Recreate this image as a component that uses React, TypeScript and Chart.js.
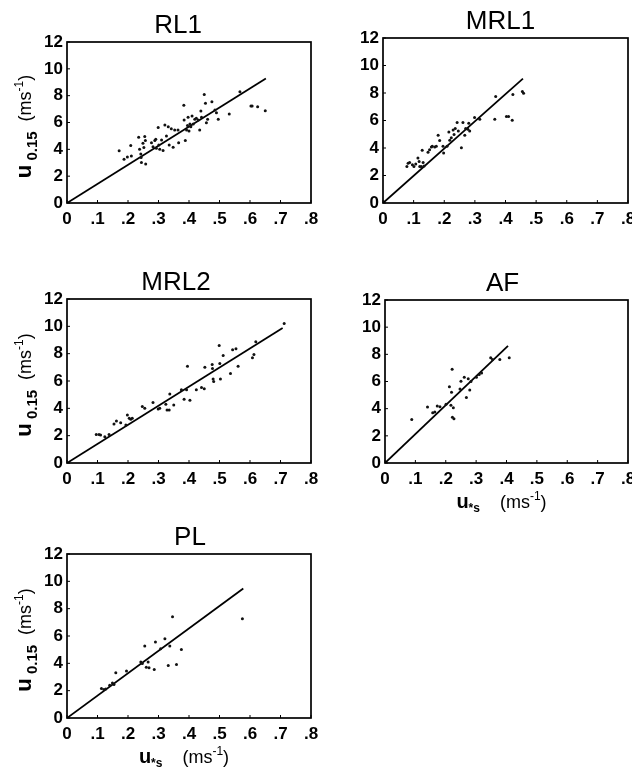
import React, { useEffect, useRef } from "react";
import { Chart, registerables } from "chart.js";

Chart.register(...registerables);

// ---------- tick labels ----------
const X_TICK_LABELS = ["0", ".1", ".2", ".3", ".4", ".5", ".6", ".7", ".8"];
const Y_TICK_LABELS = ["0", "2", "4", "6", "8", "10", "12"];

// ---------- RL1 ----------
const RL1_X = [0.171, 0.187, 0.198, 0.209, 0.211, 0.235, 0.238, 0.242, 0.243, 0.244, 0.249, 0.255, 0.257, 0.258, 0.252, 0.277, 0.282, 0.288, 0.291, 0.293, 0.299, 0.301, 0.304, 0.31, 0.315, 0.321, 0.326, 0.332, 0.335, 0.342, 0.348, 0.353, 0.364, 0.366, 0.383, 0.384, 0.388, 0.392, 0.395, 0.397, 0.4, 0.403, 0.406, 0.41, 0.414, 0.419, 0.424, 0.43, 0.435, 0.439, 0.441, 0.45, 0.454, 0.457, 0.461, 0.475, 0.485, 0.49, 0.496, 0.532, 0.567, 0.603, 0.607, 0.625, 0.65];
const RL1_Y = [3.89, 3.27, 3.42, 4.28, 3.51, 4.9, 4.0, 3.66, 3.39, 3.02, 4.46, 4.95, 4.65, 2.9, 4.13, 4.5, 4.2, 4.65, 4.75, 4.08, 5.62, 4.33, 4.0, 4.7, 3.91, 5.82, 5.0, 5.69, 4.33, 5.54, 4.16, 5.45, 5.45, 4.5, 7.28, 6.19, 4.65, 5.45, 5.77, 6.39, 5.37, 5.89, 5.69, 6.49, 5.89, 6.24, 6.31, 6.19, 5.45, 6.86, 6.39, 8.09, 7.43, 5.99, 6.24, 7.55, 6.93, 6.73, 6.24, 6.63, 8.29, 7.23, 7.23, 7.18, 6.88];
const RL1_FIT_X = [0, 0.652];
const RL1_FIT_Y = [0, 9.28];

// ---------- MRL1 ----------
const MRL1_X = [0.078, 0.082, 0.087, 0.096, 0.101, 0.107, 0.114, 0.118, 0.12, 0.125, 0.128, 0.131, 0.134, 0.147, 0.152, 0.158, 0.161, 0.169, 0.174, 0.18, 0.185, 0.196, 0.198, 0.209, 0.215, 0.218, 0.223, 0.229, 0.232, 0.236, 0.242, 0.246, 0.256, 0.261, 0.267, 0.27, 0.277, 0.28, 0.283, 0.299, 0.316, 0.368, 0.365, 0.403, 0.41, 0.422, 0.424, 0.455, 0.459];
const MRL1_Y = [2.66, 2.9, 2.95, 2.78, 2.66, 2.83, 3.27, 3.02, 2.66, 2.66, 3.84, 2.95, 2.7, 3.69, 3.88, 4.08, 4.13, 4.08, 4.13, 4.92, 4.55, 4.13, 3.64, 4.13, 5.16, 4.57, 4.75, 5.31, 4.99, 5.41, 5.85, 5.24, 4.01, 5.85, 4.92, 5.41, 5.36, 5.8, 5.24, 6.22, 6.1, 7.75, 6.1, 6.29, 6.29, 6.02, 7.89, 8.11, 7.99];
const MRL1_FIT_X = [0, 0.457];
const MRL1_FIT_Y = [0, 9.05];

// ---------- MRL2 ----------
const MRL2_X = [0.096, 0.105, 0.11, 0.124, 0.138, 0.154, 0.162, 0.176, 0.193, 0.198, 0.204, 0.209, 0.214, 0.247, 0.255, 0.282, 0.299, 0.304, 0.324, 0.328, 0.335, 0.337, 0.35, 0.375, 0.384, 0.392, 0.395, 0.403, 0.424, 0.441, 0.45, 0.452, 0.476, 0.477, 0.479, 0.481, 0.499, 0.501, 0.503, 0.512, 0.536, 0.543, 0.554, 0.561, 0.608, 0.613, 0.619, 0.712];
const MRL2_Y = [2.09, 2.09, 2.04, 1.92, 2.09, 2.85, 3.07, 2.95, 2.78, 3.52, 3.27, 3.2, 3.27, 4.13, 4.01, 4.43, 3.96, 4.01, 4.3, 3.88, 3.88, 5.04, 4.25, 5.36, 4.67, 5.36, 7.08, 4.6, 5.36, 5.53, 5.43, 7.01, 7.2, 6.91, 6.15, 5.97, 8.6, 7.28, 6.15, 7.87, 6.54, 8.29, 8.36, 7.08, 7.7, 7.94, 8.87, 10.2];
const MRL2_FIT_X = [0, 0.707];
const MRL2_FIT_Y = [0, 9.88];

// ---------- AF ----------
const AF_X = [0.088, 0.14, 0.157, 0.164, 0.172, 0.181, 0.201, 0.212, 0.217, 0.219, 0.221, 0.222, 0.227, 0.225, 0.247, 0.25, 0.261, 0.268, 0.274, 0.279, 0.283, 0.301, 0.31, 0.318, 0.348, 0.354, 0.378, 0.409];
const AF_Y = [3.2, 4.12, 3.7, 3.75, 4.2, 4.15, 4.32, 5.62, 4.25, 5.2, 6.9, 3.37, 3.25, 4.07, 5.45, 6.02, 6.32, 4.82, 6.2, 5.37, 6.0, 6.32, 6.52, 6.62, 7.75, 7.62, 7.62, 7.75];
const AF_FIT_X = [0, 0.405];
const AF_FIT_Y = [0, 8.62];

// ---------- PL ----------
const PL_X = [0.113, 0.121, 0.127, 0.14, 0.149, 0.154, 0.16, 0.195, 0.242, 0.247, 0.255, 0.26, 0.266, 0.269, 0.286, 0.29, 0.307, 0.321, 0.332, 0.337, 0.346, 0.359, 0.375, 0.575];
const PL_Y = [2.16, 2.08, 2.13, 2.4, 2.57, 2.45, 3.31, 3.43, 4.09, 3.99, 5.27, 3.72, 4.09, 3.67, 3.55, 5.56, 5.07, 5.8, 3.84, 5.27, 7.4, 3.92, 5.02, 7.27];
const PL_FIT_X = [0, 0.578];
const PL_FIT_Y = [0, 9.48];

// ---------- layout (page coordinates of each plot area) ----------
const Y_W = 67;
const PAD_T = 45;
const PAD_R = 16;
const X_H = 60;
const FAMILY = '"Liberation Sans", Arial, sans-serif';

type Seg = { t: string; size: number; bold?: boolean; dy: number };

const Y_TITLE: Seg[] = [
  { t: "u", size: 22, bold: true, dy: 0 },
  { t: " 0.15", size: 15, bold: true, dy: 6 },
  { t: "  (ms", size: 18, dy: 0 },
  { t: "-1", size: 12, dy: -8 },
  { t: ")", size: 18, dy: 0 },
];
const X_TITLE: Seg[] = [
  { t: "u", size: 20, bold: true, dy: 0 },
  { t: "*s", size: 12, bold: true, dy: 4 },
  { t: "    (ms", size: 18, dy: 0 },
  { t: "-1", size: 12, dy: -8 },
  { t: ")", size: 18, dy: 0 },
];

interface PanelCfg {
  title: string;
  xs: number[];
  ys: number[];
  fx: number[];
  fy: number[];
  L: number;
  R: number;
  T: number;
  B: number;
  titleDx: number;
  yTitle: boolean;
  xTitle: boolean;
}

const PANELS: PanelCfg[] = [
  { title: "RL1", xs: RL1_X, ys: RL1_Y, fx: RL1_FIT_X, fy: RL1_FIT_Y, L: 67, R: 311, T: 42, B: 203, titleDx: -11, yTitle: true, xTitle: false },
  { title: "MRL1", xs: MRL1_X, ys: MRL1_Y, fx: MRL1_FIT_X, fy: MRL1_FIT_Y, L: 383, R: 628, T: 38, B: 203, titleDx: -5, yTitle: false, xTitle: false },
  { title: "MRL2", xs: MRL2_X, ys: MRL2_Y, fx: MRL2_FIT_X, fy: MRL2_FIT_Y, L: 67, R: 311, T: 299, B: 463, titleDx: -13, yTitle: true, xTitle: false },
  { title: "AF", xs: AF_X, ys: AF_Y, fx: AF_FIT_X, fy: AF_FIT_Y, L: 385, R: 628, T: 300, B: 463, titleDx: -4, yTitle: false, xTitle: true },
  { title: "PL", xs: PL_X, ys: PL_Y, fx: PL_FIT_X, fy: PL_FIT_Y, L: 67, R: 311, T: 554, B: 718, titleDx: 1, yTitle: true, xTitle: true },
];

function segFont(s: Seg) {
  return `${s.bold ? "bold " : ""}${s.size}px ${FAMILY}`;
}

function drawSegs(ctx: CanvasRenderingContext2D, segs: Seg[], cx: number, base: number) {
  let total = 0;
  for (const s of segs) {
    ctx.font = segFont(s);
    total += ctx.measureText(s.t).width;
  }
  let x = cx - total / 2;
  ctx.textAlign = "left";
  ctx.textBaseline = "alphabetic";
  for (const s of segs) {
    ctx.font = segFont(s);
    ctx.fillText(s.t, x, base + s.dy);
    x += ctx.measureText(s.t).width;
  }
}

const decor = {
  id: "decor",
  afterDraw(chart: any, _args: any, opts: any) {
    const { ctx } = chart;
    const { left, right, top, bottom } = chart.chartArea;
    const xs = chart.scales.x;
    const ys = chart.scales.y;
    ctx.save();
    ctx.strokeStyle = "#000";
    ctx.fillStyle = "#000";
    ctx.lineWidth = 1.7;
    ctx.strokeRect(left, top, right - left, bottom - top);
    ctx.lineWidth = 1;
    ctx.beginPath();
    for (const t of xs.ticks) {
      const px = xs.getPixelForValue(t.value);
      ctx.moveTo(px, bottom);
      ctx.lineTo(px, bottom - 3);
    }
    for (const t of ys.ticks) {
      const py = ys.getPixelForValue(t.value);
      ctx.moveTo(left, py);
      ctx.lineTo(left + 3, py);
    }
    ctx.stroke();

    ctx.font = `26px ${FAMILY}`;
    ctx.textAlign = "center";
    ctx.textBaseline = "alphabetic";
    ctx.fillText(opts.title, (left + right) / 2 + opts.titleDx, top - 9);

    if (opts.yTitle) {
      ctx.save();
      ctx.translate(left - 36, (top + bottom) / 2 + 4);
      ctx.rotate(-Math.PI / 2);
      drawSegs(ctx, Y_TITLE, 0, 0);
      ctx.restore();
    }
    if (opts.xTitle) {
      drawSegs(ctx, X_TITLE, (left + right) / 2 - 5, bottom + 45);
    }
    ctx.restore();
  },
};

function Panel({ cfg }: { cfg: PanelCfg }) {
  const ref = useRef<HTMLCanvasElement>(null);
  const w = Y_W + (cfg.R - cfg.L) + PAD_R;
  const h = PAD_T + (cfg.B - cfg.T) + X_H;
  const cLeft = cfg.L - Y_W;
  const cTop = cfg.T - PAD_T;

  useEffect(() => {
    if (!ref.current) return;
    const pts = cfg.xs.map((x, i) => ({ x, y: cfg.ys[i] }));
    const fit = cfg.fx.map((x, i) => ({ x, y: cfg.fy[i] }));
    const chart = new Chart(ref.current, {
      type: "scatter",
      data: {
        datasets: [
          {
            data: pts,
            pointRadius: 1.5,
            pointBackgroundColor: "#111",
            pointBorderWidth: 0,
            showLine: false,
          },
          {
            data: fit,
            showLine: true,
            borderColor: "#000",
            borderWidth: 1.8,
            pointRadius: 0,
          },
        ],
      },
      options: {
        responsive: false,
        animation: false,
        devicePixelRatio: 1,
        layout: { padding: { top: PAD_T, right: PAD_R, left: 0, bottom: 0 } },
        plugins: {
          legend: { display: false },
          tooltip: { enabled: false },
          decor: { title: cfg.title, titleDx: cfg.titleDx, yTitle: cfg.yTitle, xTitle: cfg.xTitle },
        } as any,
        scales: {
          x: {
            type: "linear",
            min: 0,
            max: 0.8,
            grid: { display: false, drawTicks: false },
            border: { display: false },
            ticks: {
              stepSize: 0.1,
              padding: 6,
              autoSkip: false,
              maxRotation: 0,
              color: "#000",
              font: { family: FAMILY, size: 17, weight: "bold" },
              callback: (_v: any, i: number) => X_TICK_LABELS[i],
            },
            afterFit: (s: any) => {
              s.height = X_H;
            },
          },
          y: {
            type: "linear",
            min: 0,
            max: 12,
            grid: { display: false, drawTicks: false },
            border: { display: false },
            ticks: {
              stepSize: 2,
              padding: 4,
              color: "#000",
              font: { family: FAMILY, size: 17, weight: "bold" },
              callback: (_v: any, i: number) => Y_TICK_LABELS[i],
            },
            afterFit: (s: any) => {
              s.width = Y_W;
            },
          },
        },
      },
      plugins: [decor],
    });
    return () => chart.destroy();
  }, []);

  return (
    <canvas
      ref={ref}
      width={w}
      height={h}
      style={{ position: "absolute", left: cLeft, top: cTop, width: w, height: h }}
    />
  );
}

export default function App() {
  return (
    <div
      style={{
        position: "absolute",
        left: 0,
        top: 0,
        width: 632,
        height: 771,
        overflow: "hidden",
        background: "#fff",
      }}
    >
      {PANELS.map((p) => (
        <Panel key={p.title} cfg={p} />
      ))}
    </div>
  );
}
